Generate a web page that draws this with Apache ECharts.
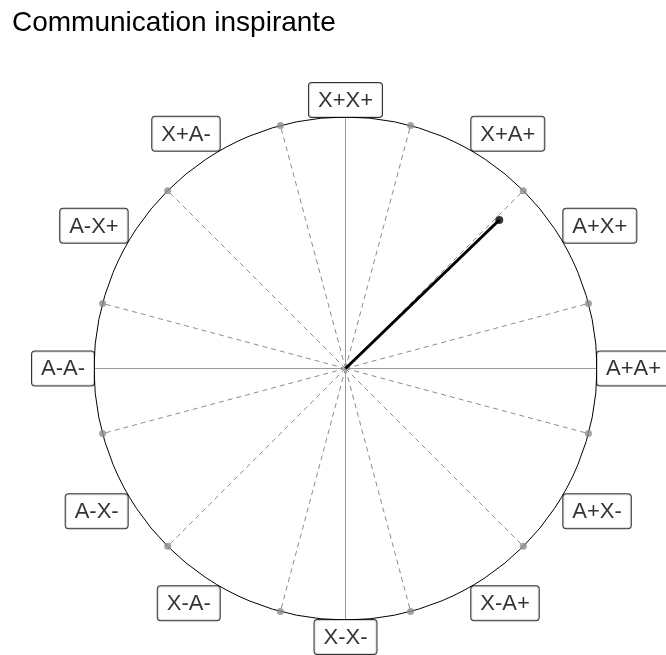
<!DOCTYPE html>
<html>
<head>
<meta charset="utf-8">
<script src="https://cdn.jsdelivr.net/npm/echarts@6/dist/echarts.min.js"></script>
<style>
html, body { margin: 0; padding: 0; background: #fff; }
#main { width: 666px; height: 655px; }
</style>
</head>
<body>
<div id="main"></div>
<script>
// données du graphique
var titleText = 'Communication inspirante';
var labelNames = ['X+X+', 'X+A+', 'A+X+', 'A+A+', 'A+X-', 'X-A+', 'X-X-', 'X-A-', 'A-X-', 'A-A-', 'A-X+', 'X+A-'];
var labelAngles = [0, 30, 60, 90, 120, 150, 180, 210, 240, 270, 300, 330];
var spokeAngles = [15, 45, 75, 105, 135, 165, 195, 225, 255, 285, 315, 345];
var axisAngles = [0, 90, 180, 270];
var scoreRadius = 0.85;
var scoreAngle = 46;

var chart = echarts.init(document.getElementById('main'));
var fontName = '"Liberation Sans", Arial, sans-serif';

var series = [];

// rayons pointillés
spokeAngles.forEach(function (a) {
    series.push({
        type: 'line',
        coordinateSystem: 'polar',
        data: [[0, a], [1, a]],
        showSymbol: false,
        silent: true,
        lineStyle: { color: '#8c8c8c', width: 1, type: [5, 4] },
        z: 2
    });
});

// axes pleins
axisAngles.forEach(function (a) {
    series.push({
        type: 'line',
        coordinateSystem: 'polar',
        data: [[0, a], [1, a]],
        showSymbol: false,
        silent: true,
        lineStyle: { color: '#999999', width: 1 },
        z: 2
    });
});

// points gris sur le cercle
series.push({
    type: 'scatter',
    coordinateSystem: 'polar',
    data: spokeAngles.map(function (a) { return [1, a]; }),
    symbolSize: 7,
    itemStyle: { color: '#8c8c8c' },
    silent: true,
    z: 3
});

// vecteur résultat
series.push({
    type: 'line',
    coordinateSystem: 'polar',
    data: [[0, scoreAngle], [scoreRadius, scoreAngle]],
    showSymbol: false,
    silent: true,
    lineStyle: { color: '#000', width: 3 },
    z: 4
});
series.push({
    type: 'scatter',
    coordinateSystem: 'polar',
    data: [[scoreRadius, scoreAngle]],
    symbolSize: 8,
    itemStyle: { color: '#000' },
    silent: true,
    z: 5
});

// étiquettes encadrées
series.push({
    type: 'scatter',
    coordinateSystem: 'polar',
    symbolSize: 0,
    silent: true,
    z: 10,
    data: labelNames.map(function (name, i) {
        var r = labelAngles[i] * Math.PI / 180;
        var s = Math.sin(r), c = Math.cos(r);
        return {
            name: name,
            value: [1, labelAngles[i]],
            label: {
                align: s > 0.01 ? 'left' : (s < -0.01 ? 'right' : 'center'),
                verticalAlign: c > 0.01 ? 'bottom' : (c < -0.01 ? 'top' : 'middle')
            }
        };
    }),
    label: {
        show: true,
        position: 'inside',
        distance: 0,
        formatter: '{b}',
        fontFamily: fontName,
        fontSize: 22,
        lineHeight: 22,
        color: '#000',
        backgroundColor: '#fff',
        borderColor: '#000',
        borderWidth: 1,
        borderRadius: 3,
        padding: [7, 9, 5, 9]
    }
});

option = {
    animation: false,
    backgroundColor: '#fff',
    title: {
        text: titleText,
        left: 12,
        top: 9,
        padding: 0,
        textStyle: { fontFamily: fontName, fontSize: 28, fontWeight: 'normal', color: '#000' }
    },
    polar: {
        center: [345.5, 368.5],
        radius: 251.5
    },
    angleAxis: {
        type: 'value',
        min: 0,
        max: 360,
        startAngle: 90,
        clockwise: true,
        axisLine: { show: true, lineStyle: { color: '#000', width: 1 } },
        axisTick: { show: false },
        axisLabel: { show: false },
        splitLine: { show: false }
    },
    radiusAxis: {
        type: 'value',
        min: 0,
        max: 1,
        axisLine: { show: false },
        axisTick: { show: false },
        axisLabel: { show: false },
        splitLine: { show: false }
    },
    series: series
};

chart.setOption(option);
</script>
</body>
</html>
